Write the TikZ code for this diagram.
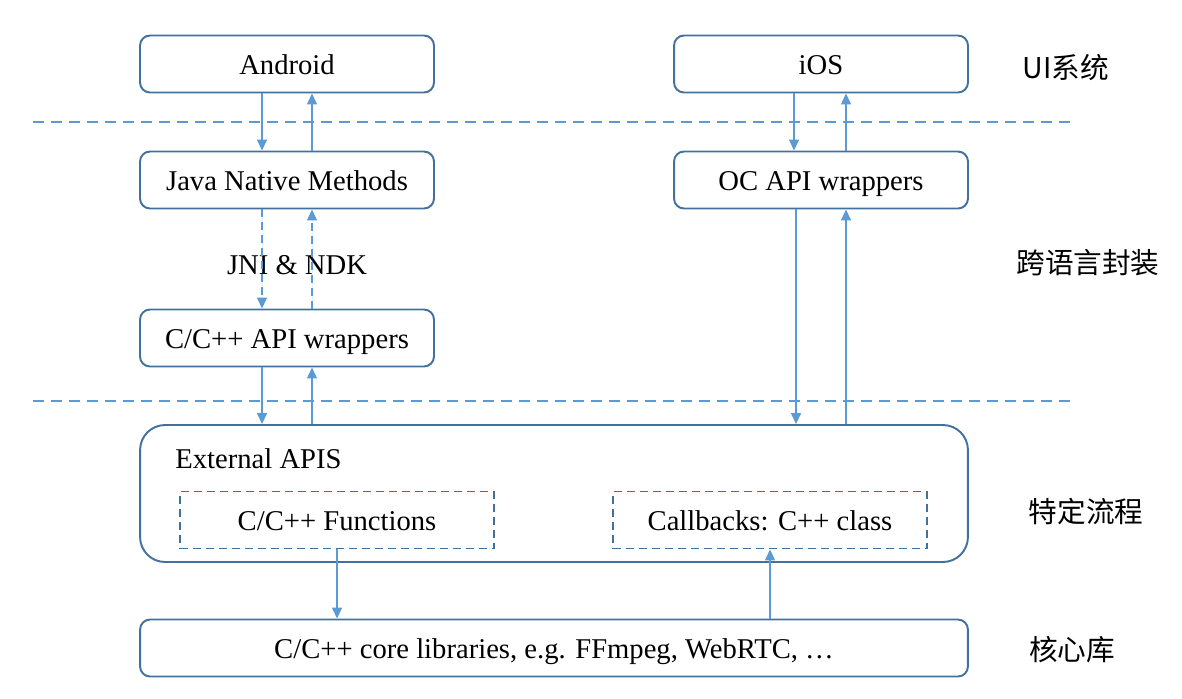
\documentclass[tikz,border=0pt]{standalone}
\usepackage{fontspec}
\setmainfont{Liberation Serif}
\newfontfamily\cjk{Noto Sans CJK SC}
\usetikzlibrary{arrows.meta}

\definecolor{boxblue}{RGB}{65,113,156}
\definecolor{arrowblue}{RGB}{91,155,213}

\begin{document}
\begin{tikzpicture}[
    x=0.02cm, y=-0.02cm,
    every node/.style={font=\fontsize{16.3}{19.5}\selectfont},
    block/.style={rectangle, draw=boxblue, line width=1.1pt, rounded corners=0.2cm,
                  minimum width=5.88cm, minimum height=1.14cm, inner sep=0pt,
                  text height=14pt, text depth=2.4pt},
    wide/.style={block, minimum width=16.56cm},
    group/.style={rectangle, draw=boxblue, line width=1.1pt, rounded corners=0.5cm,
                  minimum width=16.56cm, minimum height=2.74cm},
    part/.style={rectangle, draw=boxblue, line width=1.1pt, dash pattern=on 0.16cm off 0.1cm,
                 minimum width=6.28cm, minimum height=1.14cm, inner sep=0pt,
                 text height=14pt, text depth=2.4pt},
    arrow/.style={-{Triangle[length=0.22cm, width=0.2cm]}, draw=arrowblue, fill=arrowblue, line width=0.8pt},
    darrow/.style={arrow, dash pattern=on 0.16cm off 0.1cm},
    layer/.style={draw=arrowblue, line width=0.8pt, dash pattern=on 0.22cm off 0.14cm},
    label/.style={font=\cjk\fontsize{16.3}{19.5}\selectfont}
]
    \useasboundingbox (0,0) rectangle (1182,698);

    % UI
    \node[block] (android) at (287,64) {Android};
    \node[block] (ios) at (821,64) {iOS};

    % Wrappers
    \node[block] (java) at (287,180) {Java Native Methods};
    \node[block] (oc) at (821,180) {OC API wrappers};
    \node[block] (capi) at (287,338) {C/C++ API wrappers};
    \node (jni) at (297,265) {JNI \& NDK};

    % External APIs
    \node[group] (ext) at (554,493.5) {};
    \node[anchor=west, inner sep=0pt] (exttitle) at (175,459) {External APIS};
    \node[part] (func) at (337,520) {C/C++ Functions};
    \node[part] (cb) at (770,520) {Callbacks: C++ class};

    % Core
    \node[wide] (core) at (554,648) {C/C++ core libraries, e.g. FFmpeg, WebRTC, \dots};

    % Layer separators
    \coordinate (s1a) at (33,122);
    \coordinate (s1b) at (1073,122);
    \coordinate (s2a) at (33,401);
    \coordinate (s2b) at (1073,401);
    \draw[layer] (s1a) -- (s1b);
    \draw[layer] (s2a) -- (s2b);

    % Layer labels
    \node[label] (ui) at (1066,68) {UI系统};
    \node[label] (cross) at (1088,263) {跨语言封装};
    \node[label] (flow) at (1086,512) {特定流程};
    \node[label] (lib) at (1072,650) {核心库};

    % Arrows - Android side
    \draw[arrow] ([xshift=-0.5cm]android.south) -- ([xshift=-0.5cm]java.north);
    \draw[arrow] ([xshift=0.5cm]java.north) -- ([xshift=0.5cm]android.south);
    \draw[darrow] ([xshift=-0.5cm]java.south) -- ([xshift=-0.5cm]capi.north);
    \draw[darrow] ([xshift=0.5cm]capi.north) -- ([xshift=0.5cm]java.south);
    \draw[arrow] ([xshift=-0.5cm]capi.south) -- ([xshift=-0.5cm]capi.south |- ext.north);
    \draw[arrow] ([xshift=0.5cm]capi.south |- ext.north) -- ([xshift=0.5cm]capi.south);

    % Arrows - iOS side
    \draw[arrow] ([xshift=-0.54cm]ios.south) -- ([xshift=-0.54cm]oc.north);
    \draw[arrow] ([xshift=0.5cm]oc.north) -- ([xshift=0.5cm]ios.south);
    \draw[arrow] ([xshift=-0.5cm]oc.south) -- ([xshift=-0.5cm]oc.south |- ext.north);
    \draw[arrow] ([xshift=0.5cm]oc.south |- ext.north) -- ([xshift=0.5cm]oc.south);

    % Arrows - core
    \draw[arrow] (func.south) -- (func.south |- core.north);
    \draw[arrow] (cb.south |- core.north) -- (cb.south);

\end{tikzpicture}
\end{document}
